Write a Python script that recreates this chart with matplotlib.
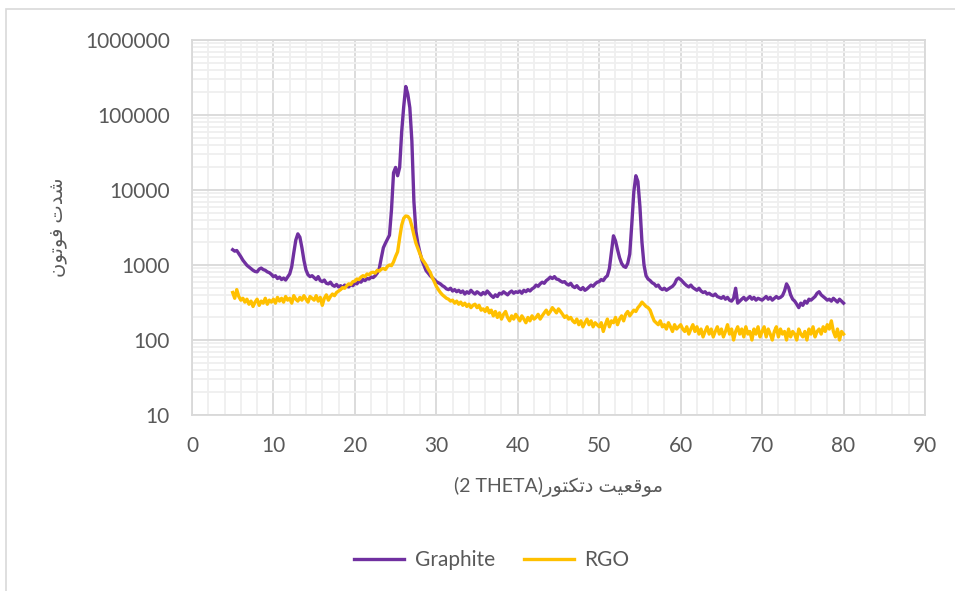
import numpy as np
import matplotlib.pyplot as plt
from matplotlib.patches import Rectangle
from matplotlib.ticker import LogLocator, MultipleLocator, NullFormatter

# 2-theta sampling grid (degrees)
two_theta = np.arange(5.0, 80.001, 0.25)

# intensities, one row = 5 degrees
graphite = [
    1600, 1530, 1560, 1420, 1290, 1160, 1070, 990, 940, 890, 850, 820, 810, 880, 910, 870, 850, 810, 790, 750,
    700, 720, 660, 690, 640, 670, 630, 690, 760, 950, 1450, 2150, 2600, 2350, 1700, 1150, 860, 740, 700, 720,
    680, 640, 700, 620, 600, 630, 570, 560, 590, 540, 520, 550, 510, 530, 500, 540, 520, 510, 550, 530,
    580, 560, 610, 590, 640, 620, 660, 650, 690, 680, 720, 780, 900, 1250, 1700, 1950, 2200, 2500, 5500, 17000,
    20000, 15500, 20000, 60000, 130000, 240000, 190000, 125000, 45000, 7000, 2800, 1900, 1450, 1150, 980, 840, 780, 720, 680, 640,
    600, 580, 560, 530, 510, 480, 470, 490, 450, 470, 440, 460, 430, 450, 410, 440, 420, 460, 430, 410,
    440, 420, 400, 430, 410, 450, 420, 390, 370, 400, 380, 420, 410, 440, 420, 400, 430, 450, 420, 440,
    430, 450, 420, 460, 440, 470, 450, 480, 500, 540, 520, 560, 590, 570, 620, 650, 690, 660, 700, 650,
    640, 610, 590, 600, 560, 540, 570, 520, 500, 530, 490, 470, 500, 460, 480, 510, 540, 520, 560, 590,
    600, 640, 620, 680, 720, 900, 1500, 2450, 2100, 1600, 1250, 1050, 960, 930, 1050, 1400, 3500, 9500, 15500, 13000,
    6000, 2000, 1000, 720, 650, 620, 580, 560, 520, 540, 490, 470, 490, 460, 480, 500, 520, 560, 640, 670,
    640, 600, 560, 530, 510, 540, 500, 480, 460, 490, 450, 430, 440, 410, 420, 400, 390, 410, 380, 370,
    360, 380, 350, 370, 340, 330, 360, 490, 310, 330, 350, 370, 340, 360, 380, 350, 370, 340, 360, 350,
    340, 360, 380, 350, 370, 340, 360, 380, 360, 370, 390, 450, 560, 500, 400, 350, 330, 300, 270, 310,
    290, 330, 310, 350, 340, 360, 380, 420, 440, 400, 380, 360, 340, 350, 330, 360, 340, 320, 350, 330,
    310,
]

rgo = [
    430, 360, 470, 380, 340, 360, 320, 350, 300, 330, 280, 320, 350, 290, 330, 310, 360, 300, 340, 320,
    350, 310, 370, 330, 360, 320, 380, 340, 360, 310, 390, 350, 330, 370, 340, 390, 350, 320, 380, 360,
    340, 390, 330, 370, 290, 360, 400, 340, 380, 410, 390, 430, 450, 470, 500, 490, 530, 560, 550, 600,
    610, 650, 640, 690, 720, 700, 760, 740, 790, 800, 780, 850, 830, 880, 900, 870, 960, 1000, 980, 1100,
    1300, 1500, 2300, 3400, 4200, 4500, 4450, 4100, 3300, 2500, 1950, 1650, 1400, 1200, 1100, 1000, 880, 800, 680, 600,
    520, 470, 430, 400, 380, 360, 350, 330, 340, 310, 330, 300, 320, 290, 310, 280, 300, 270, 290, 300,
    270, 290, 250, 260, 240, 270, 230, 250, 210, 240, 200, 230, 190, 220, 240, 200, 180, 210, 190, 220,
    200, 180, 210, 190, 170, 200, 180, 210, 190, 200, 220, 190, 210, 230, 250, 220, 240, 270, 250, 230,
    260, 240, 220, 200, 210, 190, 200, 180, 170, 190, 160, 180, 150, 170, 190, 160, 180, 150, 170, 160,
    150, 170, 130, 160, 190, 150, 180, 170, 200, 160, 190, 210, 180, 220, 240, 210, 230, 250, 240, 270,
    290, 320, 300, 280, 270, 250, 210, 180, 170, 160, 180, 150, 160, 140, 170, 150, 130, 160, 140, 150,
    160, 140, 130, 150, 120, 140, 160, 130, 150, 120, 140, 110, 130, 150, 120, 140, 110, 130, 150, 120,
    140, 110, 130, 160, 120, 140, 100, 130, 150, 120, 140, 110, 150, 120, 130, 100, 140, 120, 150, 110,
    130, 150, 110, 140, 120, 100, 130, 150, 110, 140, 120, 130, 100, 140, 110, 130, 120, 100, 140, 120,
    110, 130, 100, 140, 120, 150, 110, 130, 140, 120, 150, 130, 160, 140, 180, 130, 110, 140, 100, 130,
    120,
]

x_ticks = [0, 10, 20, 30, 40, 50, 60, 70, 80, 90]
y_ticks = [10, 100, 1000, 10000, 100000, 1000000]

# Arabic labels written as presentation forms in visual (left-to-right) order,
# since matplotlib does no shaping or bidi
ylabel = "\ufee5\ufeee\ufe97\ufeee\ufed3 \ufe95\ufeaa\ufeb7"  # شدت فوتون
xlabel = ("(2 THETA)" + "\ufead\ufeee\ufe98\ufb91\ufe97\ufea9" + " "
          + "\ufe96\ufef4\ufecc\ufed7\ufeee\ufee3")  # موقعیت دتکتور(2 THETA)

fonts = ["Lato", "DejaVu Sans"]
grey = "#595959"
plt.rcParams["font.family"] = fonts

fig = plt.figure(figsize=(9.55, 5.91), dpi=100)
ax = fig.add_axes([0.201, 0.2978, 0.9686 - 0.201, 0.9323 - 0.2978])

# chart-area border
fig.patches.append(Rectangle((6 / 955, -0.05), 1.0, 1 - 9 / 591 + 0.05, transform=fig.transFigure,
                             fill=False, edgecolor="#d9d9d9", linewidth=1.2))

ax.plot(two_theta, graphite, color="#7030A0", lw=2.4, label="Graphite", solid_joinstyle="round")
ax.plot(two_theta, rgo, color="#FFC000", lw=2.4, label="RGO", solid_joinstyle="round")

ax.set_yscale("log")
ax.set_xlim(0, 90)
ax.set_ylim(10, 1000000)
ax.set_xticks(x_ticks)
ax.set_yticks(y_ticks)
ax.set_yticklabels([str(v) for v in y_ticks])
ax.xaxis.set_minor_locator(MultipleLocator(2))
ax.yaxis.set_minor_locator(LogLocator(base=10, subs=np.arange(2, 10)))
ax.yaxis.set_minor_formatter(NullFormatter())

ax.grid(True, which="major", color="#d9d9d9", lw=1.3)
ax.grid(True, which="minor", color="#efefef", lw=1.3)
ax.set_axisbelow(True)
for s in ax.spines.values():
    s.set_color("#d9d9d9")
    s.set_linewidth(1.3)

ax.tick_params(which="both", length=0, labelsize=15, labelcolor=grey)
ax.tick_params(axis="x", pad=15)
ax.tick_params(axis="y", pad=16)

ax.set_xlabel(xlabel, fontsize=14, color=grey, labelpad=15)
ax.set_ylabel(ylabel, fontsize=14, color=grey, labelpad=13)

fig.legend(loc="center", bbox_to_anchor=(0.515, 0.052), ncol=2, frameon=False,
           fontsize=15, labelcolor=grey, handlelength=2.4, columnspacing=1.4, handletextpad=0.5)

fig.savefig("out.png", dpi=100)
